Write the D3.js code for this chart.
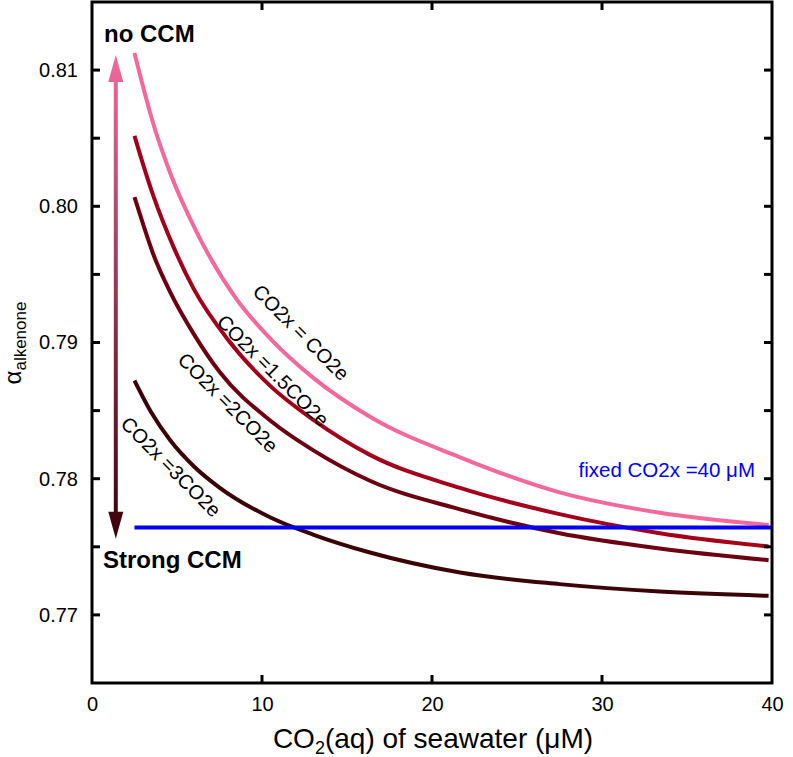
<!DOCTYPE html>
<html>
<head>
<meta charset="utf-8">
<script src="https://cdn.jsdelivr.net/npm/d3@7"></script>
<style>
  body { margin: 0; background: #fff; }
  svg { display: block; font-family: "Liberation Sans", Arial, Helvetica, sans-serif; }
</style>
</head>
<body>
<svg id="chart" width="793" height="757"></svg>
<script>
// ---- data ----
const co2_1x   = [2.5, 3.0, 3.6, 4.6, 6.2, 8.5, 10.5, 13.0, 16.35, 21.65, 27.5, 33.4, 39.8];
const alpha_1x = [0.81125, 0.80879, 0.80608, 0.80245, 0.79800, 0.79318, 0.79027, 0.78742, 0.78455, 0.78157, 0.77900, 0.77750, 0.77660];

const co2_15x   = [2.5, 3.0, 3.6, 4.8, 6.0, 8.0, 10.5, 13.0, 16.35, 21.65, 27.5, 33.4, 39.8];
const alpha_15x = [0.80517, 0.80310, 0.80080, 0.79700, 0.79390, 0.79020, 0.78680, 0.78434, 0.78175, 0.77932, 0.77740, 0.77600, 0.77502];

const co2_2x   = [2.5, 3.0, 3.6, 4.6, 6.0, 7.5, 10.5, 13.0, 16.35, 21.65, 27.5, 33.4, 39.8];
const alpha_2x = [0.80068, 0.79871, 0.79650, 0.79370, 0.79060, 0.78785, 0.78426, 0.78210, 0.77985, 0.77775, 0.77600, 0.77488, 0.77402];

const co2_3x   = [2.5, 3.5, 4.6, 6.0, 7.5, 10.5, 13.0, 16.35, 21.65, 27.5, 33.4, 39.8];
const alpha_3x = [0.78721, 0.78484, 0.78282, 0.78090, 0.77935, 0.77715, 0.77590, 0.77458, 0.77311, 0.77226, 0.77171, 0.77140];

const fixedCO2x = { from: 2.5, to: 40, alpha: 0.77642 };
const seriesNames  = ["CO2x = CO2e", "CO2x =1.5CO2e", "CO2x =2CO2e", "CO2x =3CO2e"];
const seriesColors = ["#F4689C", "#A4001C", "#6C0010", "#3A0406"];
const labelAt = [[12.3, 0.79074], [10.65, 0.78794], [8.0, 0.78559], [4.65, 0.78088]];

const xTicks = [0, 10, 20, 30, 40];
const yTicks = [0.77, 0.78, 0.79, 0.80, 0.81];
const yMinor = [0.775, 0.785, 0.795, 0.805];
const arrowCO2 = 1.4, arrowTop = 0.8111, arrowBottom = 0.7756;

// ---- layout ----
const svg = d3.select("#chart");
const L = 92, R = 772, T = 2, B = 683;
const x = d3.scaleLinear().domain([0, 40]).range([L, R]);
const y = d3.scaleLinear().domain([0.765, 0.815]).range([B, T]);

// gradient for the arrow
const defs = svg.append("defs");
const grad = defs.append("linearGradient").attr("id", "arrowGrad")
  .attr("gradientUnits", "userSpaceOnUse")
  .attr("x1", 0).attr("x2", 0).attr("y1", y(arrowTop)).attr("y2", y(arrowBottom));
grad.append("stop").attr("offset", "0%").attr("stop-color", "#F4689C");
grad.append("stop").attr("offset", "100%").attr("stop-color", "#3A0008");

// curves
const line = d3.line().x(d => x(d[0])).y(d => y(d[1])).curve(d3.curveMonotoneX);
const series = [[co2_1x, alpha_1x], [co2_15x, alpha_15x], [co2_2x, alpha_2x], [co2_3x, alpha_3x]];
series.forEach((s, i) => {
  const pts = s[0].map((c, j) => [c, s[1][j]]);
  svg.append("path").datum(pts).attr("d", line)
    .attr("fill", "none").attr("stroke", seriesColors[i]).attr("stroke-width", 4);
});

// fixed CO2x line
svg.append("line")
  .attr("x1", x(fixedCO2x.from)).attr("x2", x(fixedCO2x.to))
  .attr("y1", y(fixedCO2x.alpha)).attr("y2", y(fixedCO2x.alpha))
  .attr("stroke", "#0000FF").attr("stroke-width", 4);
svg.append("text").attr("x", 755).attr("y", 477).attr("text-anchor", "end")
  .attr("fill", "#0000FF").attr("font-size", 20.5).text("fixed CO2x =40 μM");

// curve labels
seriesNames.forEach((n, i) => {
  const px = x(labelAt[i][0]), py = y(labelAt[i][1]);
  svg.append("text").attr("transform", `translate(${px},${py}) rotate(45)`)
    .attr("text-anchor", "middle").attr("dominant-baseline", "central")
    .attr("font-size", 20).attr("fill", "#000").text(n);
});

// arrow (double headed, gradient)
{
  const ax = x(arrowCO2), yt = y(arrowTop), yb = y(arrowBottom);
  const hw = 7.5, hh = 27, sw = 2;
  const p = d3.path();
  p.moveTo(ax, yt); p.lineTo(ax + hw, yt + hh); p.lineTo(ax + sw, yt + hh);
  p.lineTo(ax + sw, yb - hh); p.lineTo(ax + hw, yb - hh); p.lineTo(ax, yb);
  p.lineTo(ax - hw, yb - hh); p.lineTo(ax - sw, yb - hh); p.lineTo(ax - sw, yt + hh);
  p.lineTo(ax - hw, yt + hh); p.closePath();
  svg.append("path").attr("d", p.toString()).attr("fill", "url(#arrowGrad)");
}
svg.append("text").attr("x", 104).attr("y", 42).attr("font-size", 24).attr("font-weight", "bold").text("no CCM");
svg.append("text").attr("x", 103).attr("y", 568).attr("font-size", 24).attr("font-weight", "bold").text("Strong CCM");

// frame
svg.append("rect").attr("x", L).attr("y", T).attr("width", R - L).attr("height", B - T)
  .attr("fill", "none").attr("stroke", "#000").attr("stroke-width", 3);

// axes (ticks inward)
const tl = 8;
const gB = svg.append("g").attr("transform", `translate(0,${B})`)
  .call(d3.axisBottom(x).tickValues(xTicks).tickSize(0).tickPadding(14).tickFormat(d3.format("d")));
gB.select(".domain").remove();
gB.selectAll("text").attr("font-size", 20).attr("font-family", null);
const gL = svg.append("g").attr("transform", `translate(${L},0)`)
  .call(d3.axisLeft(y).tickValues(yTicks).tickSize(0).tickPadding(14).tickFormat(d3.format(".2f")));
gL.select(".domain").remove();
gL.selectAll("text").attr("font-size", 20).attr("font-family", null);

const tickG = svg.append("g").attr("stroke", "#000").attr("stroke-width", 3);
[10, 20, 30].forEach(v => {
  tickG.append("line").attr("x1", x(v)).attr("x2", x(v)).attr("y1", B).attr("y2", B - tl);
  tickG.append("line").attr("x1", x(v)).attr("x2", x(v)).attr("y1", T).attr("y2", T + tl);
});
yTicks.concat(yMinor).forEach(v => {
  tickG.append("line").attr("x1", L).attr("x2", L + tl).attr("y1", y(v)).attr("y2", y(v));
  tickG.append("line").attr("x1", R).attr("x2", R - tl).attr("y1", y(v)).attr("y2", y(v));
});

// axis titles
const xt = svg.append("text").attr("x", (L + R) / 2 + 1).attr("y", 748).attr("text-anchor", "middle").attr("font-size", 28);
xt.append("tspan").text("CO");
xt.append("tspan").attr("font-size", 18).attr("dy", 6).text("2");
xt.append("tspan").attr("dy", -6).text("(aq) of seawater (μM)");

const yt = svg.append("text").attr("transform", "translate(21,343) rotate(-90)").attr("text-anchor", "middle").attr("font-size", 24);
yt.append("tspan").text("α");
yt.append("tspan").attr("font-size", 17).attr("dy", 5).text("alkenone");
</script>
</body>
</html>
